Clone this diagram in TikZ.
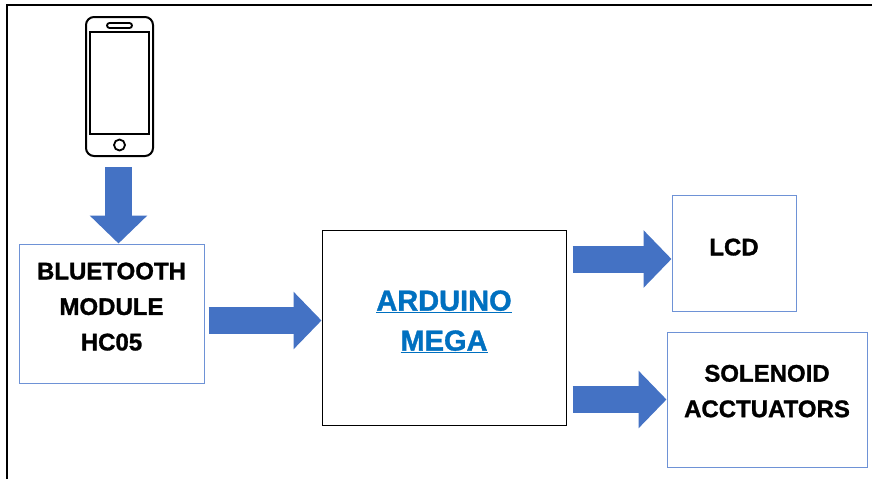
\documentclass[tikz,border=0pt]{standalone}
\usepackage{fontspec}
\setmainfont[BoldFeatures={FakeBold=1.2}]{Liberation Sans}
\usetikzlibrary{calc}
\usetikzlibrary{arrows.meta}
\usetikzlibrary{positioning}
\definecolor{arrowblue}{RGB}{68,114,196}
\definecolor{edgeblue}{RGB}{110,146,214}
\definecolor{linkblue}{RGB}{0,112,192}
\tikzset{block/.style={draw=edgeblue, line width=1pt, fill=white, text centered, align=center, text depth=14pt,
  font=\bfseries\fontsize{24}{35.5}\selectfont}}
\tikzset{connect/.style={draw=arrowblue, line width=27pt, -{Triangle[width=56pt,length=28pt]}}}

\begin{document}
\begin{tikzpicture}[x=1pt,y=-1pt]
\useasboundingbox (0,0) rectangle (872,479);
% frame
\draw[line width=2.5pt] (7,479) -- (7,5) -- (872,5);
% phone
\node[draw, line width=2pt, rounded corners=8pt, minimum width=67pt, minimum height=139pt] (phone) at (119.5,86.5) {};
\draw[line width=1.8pt] ([xshift=5pt,yshift=-16pt]phone.north west) rectangle ([xshift=-5pt,yshift=23pt]phone.south east);
\draw[line width=1.8pt, rounded corners=2.5pt] ([xshift=-12.5pt,yshift=-7pt]phone.north) rectangle ([xshift=12.5pt,yshift=-12pt]phone.north);
\draw[line width=1.8pt] ([yshift=12pt]phone.south) circle (5.5pt);
% blocks
\node[block, minimum width=185pt, minimum height=139pt] (bt) at (111.5,313.5) {BLUETOOTH\\MODULE\\HC05};
\node[block, draw=black, minimum width=244pt, minimum height=195pt, text=linkblue,
  font=\bfseries\fontsize{29}{40}\selectfont] (mega) at (444,327.5) {\underline{ARDUINO}\\\underline{MEGA}};
\node[block, minimum width=124pt, minimum height=116pt, text depth=12pt] (lcd) at (734,253) {LCD};
\node[block, minimum width=200pt, minimum height=135pt, text depth=17pt] (sol) at (767,399.5) {SOLENOID\\ACCTUATORS};
% arrows
\coordinate (phoneout) at ([xshift=-1pt,yshift=-10pt]phone.south);
\coordinate (btout) at ([xshift=4pt,yshift=-7pt]bt.east);
\coordinate (lcdout) at ([xshift=6pt,yshift=-6pt]mega.east |- lcd.center);
\coordinate (solout) at ([xshift=6pt]mega.east |- sol.center);
\path[connect] (phoneout) -- (phoneout |- bt.north);
\path[connect] (btout) -- (btout -| mega.west);
\path[connect] (lcdout) -- (lcdout -| lcd.west);
\path[connect] (solout) -- (solout -| sol.west);
\end{tikzpicture}
\end{document}
